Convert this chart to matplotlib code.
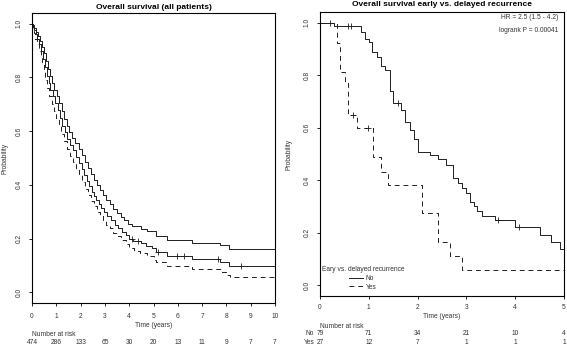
import numpy as np
import matplotlib.pyplot as plt
from matplotlib import transforms

plt.rcParams['font.family'] = ['Liberation Sans', 'DejaVu Sans']

# ---- left panel: all patients (estimate + confidence band) ----
all_t = [0.00, 0.03, 0.08, 0.15, 0.22, 0.30, 0.38, 0.46, 0.53, 0.60, 0.68, 0.76,
         0.85, 0.95, 1.05, 1.15, 1.25, 1.35, 1.45, 1.58, 1.70, 1.82, 1.95, 2.05,
         2.15, 2.25, 2.35, 2.45, 2.55, 2.65, 2.75, 2.85, 2.95, 3.10, 3.25, 3.40,
         3.55, 3.70, 3.85, 4.00, 4.15, 4.50, 4.70, 4.95, 5.12, 5.55, 6.60, 7.75, 8.10]
all_s = [1.000, 0.990, 0.975, 0.960, 0.945, 0.925, 0.900, 0.870, 0.840, 0.805, 0.780, 0.755,
         0.730, 0.705, 0.680, 0.650, 0.620, 0.595, 0.570, 0.548, 0.530, 0.505, 0.480, 0.458,
         0.438, 0.415, 0.395, 0.375, 0.360, 0.343, 0.328, 0.312, 0.298, 0.283, 0.268, 0.252,
         0.238, 0.225, 0.212, 0.200, 0.190, 0.182, 0.172, 0.163, 0.150, 0.135, 0.123, 0.112, 0.098]
all_censor = [4.10, 4.35, 5.18, 5.95, 6.25, 7.65, 8.60]

hi_t = [0.00, 0.05, 0.10, 0.18, 0.26, 0.34, 0.42, 0.50, 0.58, 0.66, 0.74, 0.83,
        0.92, 1.02, 1.12, 1.22, 1.32, 1.42, 1.52, 1.64, 1.78, 1.92, 2.05, 2.18,
        2.30, 2.42, 2.55, 2.68, 2.80, 2.92, 3.05, 3.20, 3.35, 3.50, 3.65, 3.80,
        3.95, 4.10, 4.50, 4.75, 5.12, 5.55, 6.60, 7.73, 8.12]
hi_s = [1.000, 0.995, 0.985, 0.970, 0.955, 0.935, 0.915, 0.890, 0.860, 0.830, 0.805, 0.780,
        0.755, 0.730, 0.705, 0.675, 0.645, 0.620, 0.598, 0.575, 0.555, 0.535, 0.510, 0.485,
        0.462, 0.440, 0.418, 0.398, 0.380, 0.362, 0.345, 0.328, 0.310, 0.295, 0.282, 0.268,
        0.255, 0.246, 0.236, 0.227, 0.210, 0.196, 0.184, 0.176, 0.162]

lo_t = [0.00, 0.03, 0.08, 0.14, 0.20, 0.28, 0.35, 0.42, 0.48, 0.55, 0.63, 0.72,
        0.81, 0.90, 1.00, 1.10, 1.20, 1.30, 1.42, 1.55, 1.68, 1.80, 1.92, 2.05,
        2.17, 2.30, 2.42, 2.55, 2.68, 2.80, 2.92, 3.05, 3.20, 3.35, 3.50, 3.68,
        3.85, 4.00, 4.20, 4.45, 4.75, 5.00, 5.12, 5.55, 6.60, 7.80, 8.00, 8.15]
lo_s = [1.000, 0.985, 0.965, 0.945, 0.925, 0.900, 0.875, 0.850, 0.820, 0.790, 0.760, 0.730,
        0.700, 0.675, 0.648, 0.620, 0.590, 0.565, 0.535, 0.508, 0.485, 0.460, 0.435, 0.410,
        0.385, 0.362, 0.340, 0.320, 0.300, 0.285, 0.268, 0.252, 0.238, 0.222, 0.208, 0.195,
        0.180, 0.165, 0.152, 0.145, 0.135, 0.122, 0.112, 0.098, 0.088, 0.075, 0.065, 0.058]

all_risk_t = [0, 1, 2, 3, 4, 5, 6, 7, 8, 9, 10]
all_risk_n = [474, 286, 133, 65, 30, 20, 13, 11, 9, 7, 7]

# ---- right panel: early vs delayed recurrence ----
no_t = [0.00, 0.29, 0.85, 0.92, 1.00, 1.07, 1.16, 1.26, 1.33, 1.43, 1.50, 1.67,
        1.74, 1.84, 1.93, 2.01, 2.25, 2.42, 2.59, 2.73, 2.83, 2.91, 3.00, 3.07,
        3.16, 3.22, 3.31, 3.58, 3.99, 4.50, 4.74, 4.91]
no_s = [1.000, 0.987, 0.963, 0.938, 0.925, 0.887, 0.869, 0.833, 0.818, 0.738, 0.693, 0.668,
        0.621, 0.592, 0.556, 0.509, 0.496, 0.480, 0.458, 0.407, 0.390, 0.369, 0.352, 0.318,
        0.302, 0.284, 0.263, 0.248, 0.223, 0.191, 0.165, 0.137]
no_censor = [0.21, 0.58, 0.64, 1.60, 3.65, 4.08]

yes_t = [0.00, 0.35, 0.42, 0.51, 0.57, 0.76, 1.09, 1.26, 1.39, 2.08, 2.42, 2.66, 2.90]
yes_s = [1.000, 0.923, 0.810, 0.770, 0.649, 0.598, 0.490, 0.432, 0.382, 0.274, 0.165, 0.111, 0.057]
yes_censor = [0.67, 0.99]

grp_risk_t = [0, 1, 2, 3, 4, 5]
no_risk = [79, 71, 34, 21, 10, 4]
yes_risk = [27, 12, 7, 1, 1, 1]

W, H = 567, 346
fig = plt.figure(figsize=(W / 100, H / 100), dpi=100)
ax1 = fig.add_axes([32 / W, 1 - 303 / H, 243 / W, 290 / H])
ax2 = fig.add_axes([320 / W, 1 - 296 / H, 244 / W, 284 / H])

LW = 0.7
LC = '#1e1e1e'
TC = '#333333'
DASH = (0, (5, 4))
FS = 4.8


def km(ax, t, s, tmax, **kw):
    ax.step(list(t) + [tmax], list(s) + [s[-1]], where='post', color=LC, lw=LW, **kw)


def marks(ax, t, s, ct):
    t = np.array(t)
    s = np.array(s)
    cs = [s[np.searchsorted(t, c, side='right') - 1] for c in ct]
    ax.plot(ct, cs, '+', color=LC, ms=4, mew=0.6)


def style(ax, xmax, xpad):
    ax.set_xlim(0, xmax)
    ax.set_ylim(-0.04, 1.04)
    ax.set_yticks([0, 0.2, 0.4, 0.6, 0.8, 1.0])
    ax.set_yticklabels(['0.0', '0.2', '0.4', '0.6', '0.8', '1.0'], rotation=90, va='center')
    ax.tick_params(axis='both', direction='out', length=2.5, width=0.6, labelsize=FS,
                   colors='k', labelcolor=TC)
    ax.tick_params(axis='x', pad=xpad)
    ax.tick_params(axis='y', pad=4)
    for sp in ax.spines.values():
        sp.set_linewidth(0.8)
    ax.set_xlabel('Time (years)', fontsize=FS, color=TC, labelpad=1.5)
    ax.set_ylabel('Probability', fontsize=FS, color=TC, va='center')


# left
km(ax1, hi_t, hi_s, 10)
km(ax1, all_t, all_s, 10)
km(ax1, lo_t, lo_s, 10, ls=DASH)
marks(ax1, all_t, all_s, all_censor)
style(ax1, 10, 4.5)
ax1.set_xticks(range(0, 11))
ax1.yaxis.set_label_coords(-0.112, 0.5)
ax1.set_title('Overall survival (all patients)', fontsize=6, fontweight='bold', pad=3)

tr1 = transforms.blended_transform_factory(ax1.transData, fig.transFigure)
fig.text(0, 1 - 334 / H, 'Number at risk', transform=tr1, fontsize=FS, color=TC,
         ha='left', va='center')
for t, n in zip(all_risk_t, all_risk_n):
    fig.text(t, 1 - 342 / H, str(n), transform=tr1, fontsize=FS, color=TC,
             ha='center', va='center')

# right
km(ax2, no_t, no_s, 5, label='No')
km(ax2, yes_t, yes_s, 5, ls=DASH, label='Yes')
marks(ax2, no_t, no_s, no_censor)
marks(ax2, yes_t, yes_s, yes_censor)
style(ax2, 5, 3.5)
ax2.set_xticks(range(0, 6))
ax2.yaxis.set_label_coords(-0.128, 0.5)
ax2.set_title('Overall survival early vs. delayed recurrence', fontsize=6, fontweight='bold', pad=4)

ax2.text(0.978, 0.982, 'HR = 2.5 (1.5 - 4.2)', transform=ax2.transAxes, fontsize=FS,
         color=TC, ha='right', va='center')
ax2.text(0.978, 0.936, 'logrank P = 0.00041', transform=ax2.transAxes, fontsize=FS,
         color=TC, ha='right', va='center')

leg = ax2.legend(title='Eary vs. delayed recurrence', loc='center',
                 bbox_to_anchor=(0.176, 0.062), frameon=False, fontsize=FS,
                 title_fontsize=FS, handlelength=2.0, handletextpad=0.5,
                 labelspacing=0.25, borderpad=0, borderaxespad=0)
leg.get_title().set_color(TC)
for txt in leg.get_texts():
    txt.set_color(TC)

tr2 = transforms.blended_transform_factory(ax2.transData, fig.transFigure)
fig.text(0, 1 - 326 / H, 'Number at risk', transform=tr2, fontsize=FS, color=TC,
         ha='left', va='center')
fig.text(-0.12, 1 - 333.5 / H, 'No', transform=tr2, fontsize=FS, color=TC,
         ha='right', va='center')
fig.text(-0.12, 1 - 343 / H, 'Yes', transform=tr2, fontsize=FS, color=TC,
         ha='right', va='center')
for t, a, b in zip(grp_risk_t, no_risk, yes_risk):
    fig.text(t, 1 - 333.5 / H, str(a), transform=tr2, fontsize=FS, color=TC,
             ha='center', va='center')
    fig.text(t, 1 - 343 / H, str(b), transform=tr2, fontsize=FS, color=TC,
             ha='center', va='center')

fig.savefig('out.png', dpi=100)
